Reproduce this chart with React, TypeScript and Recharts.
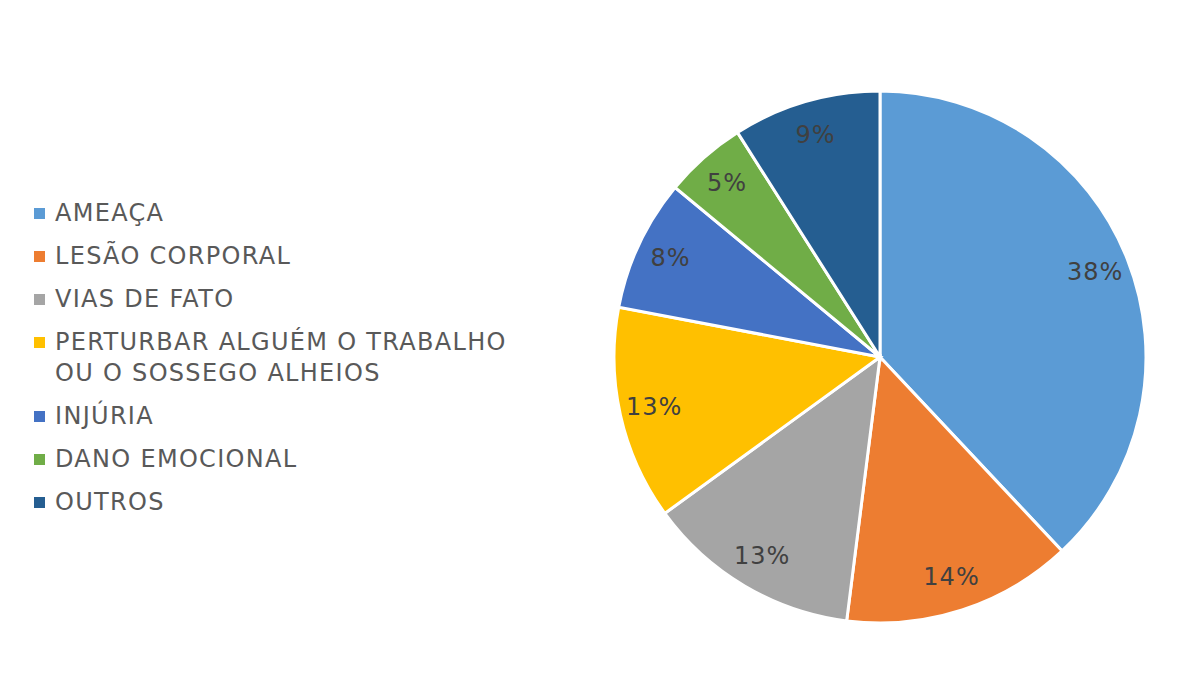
import { PieChart, Pie, Cell } from 'recharts'

const categories = [
  'AMEAÇA',
  'LESÃO CORPORAL',
  'VIAS DE FATO',
  'PERTURBAR ALGUÉM O TRABALHO OU O SOSSEGO ALHEIOS',
  'INJÚRIA',
  'DANO EMOCIONAL',
  'OUTROS',
]
const shares = [38, 14, 13, 13, 8, 5, 9]
const colors = ['#5b9bd5', '#ed7d31', '#a5a5a5', '#ffc000', '#4472c4', '#70ad47', '#255e91']

const data = categories.map((name, i) => ({ name, value: shares[i] }))

const RAD = Math.PI / 180
const font = '"DejaVu Sans", Verdana, sans-serif'

function renderLabel(props: any) {
  const { cx, cy, midAngle, outerRadius, value } = props
  const r = outerRadius * 0.87
  const x = cx + r * Math.cos(-midAngle * RAD)
  const y = cy + r * Math.sin(-midAngle * RAD)
  return (
    <text
      x={x}
      y={y}
      fill="#404040"
      textAnchor="middle"
      dominantBaseline="central"
      fontSize={24}
      letterSpacing={1}
      fontFamily={font}
    >
      {value}%
    </text>
  )
}

export default function App() {
  return (
    <div style={{ position: 'relative', width: 1201, height: 675, margin: -8, background: '#fff' }}>
      <div
        style={{
          position: 'absolute',
          left: 5,
          top: 5,
          right: 0,
          bottom: 0,
          borderTop: '2px solid #d6d6d6',
          borderLeft: '2px solid #e4e4e4',
        }}
      />
      <div style={{ position: 'absolute', left: 0, top: 0 }}>
        <PieChart width={1201} height={675} margin={{ top: 0, right: 0, bottom: 0, left: 0 }}>
          <Pie
            data={data}
            dataKey="value"
            nameKey="name"
            cx={880}
            cy={357}
            outerRadius={266}
            startAngle={90}
            endAngle={-270}
            stroke="#ffffff"
            strokeWidth={3}
            label={renderLabel}
            labelLine={false}
            isAnimationActive={false}
          >
            {data.map((d, i) => (
              <Cell key={d.name} fill={colors[i]} />
            ))}
          </Pie>
        </PieChart>
      </div>
      <div
        style={{
          position: 'absolute',
          left: 34,
          top: 198,
          width: 475,
          fontFamily: font,
          fontSize: 24,
          letterSpacing: 1.3,
          lineHeight: '31px',
          color: '#595959',
        }}
      >
        {categories.map((name, i) => (
          <div key={name} style={{ display: 'flex', alignItems: 'flex-start', marginBottom: 12 }}>
            <span
              style={{
                width: 11,
                height: 11,
                background: colors[i],
                marginTop: 10,
                marginRight: 10,
                flexShrink: 0,
              }}
            />
            <span>{name}</span>
          </div>
        ))}
      </div>
    </div>
  )
}
